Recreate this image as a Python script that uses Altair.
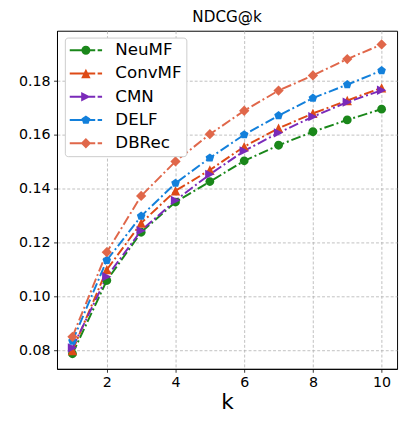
import altair as alt
import pandas as pd

# ---- data ----
k_values = [1, 2, 3, 4, 5, 6, 7, 8, 9, 10]
series_names = ["NeuMF", "ConvMF", "CMN", "DELF", "DBRec"]
neumf = [0.0788, 0.1060, 0.1239, 0.1351, 0.1427, 0.1504, 0.1562, 0.1612, 0.1656, 0.1696]
convmf = [0.0800, 0.1100, 0.1273, 0.1393, 0.1470, 0.1557, 0.1625, 0.1680, 0.1728, 0.1775]
cmn = [0.0810, 0.1074, 0.1245, 0.1357, 0.1454, 0.1541, 0.1608, 0.1668, 0.1722, 0.1766]
delf = [0.0835, 0.1135, 0.1299, 0.1421, 0.1515, 0.1601, 0.1672, 0.1737, 0.1787, 0.1839]
dbrec = [0.0851, 0.1165, 0.1374, 0.1502, 0.1603, 0.1690, 0.1765, 0.1821, 0.1882, 0.1936]
x_ticks = [2, 4, 6, 8, 10]
y_ticks = [0.08, 0.10, 0.12, 0.14, 0.16, 0.18]

colors = ["#1a871a", "#de4a16", "#7a2ab9", "#1380db", "#e0674a"]

rows = []
for name, vals in zip(series_names, [neumf, convmf, cmn, delf, dbrec]):
    for kk, v in zip(k_values, vals):
        rows.append({"k": kk, "value": v, "series": name})
df = pd.DataFrame(rows)


# ---- marker shapes (SVG paths in the unit box, all drawn clockwise) ----
def fmt(v):
    return f"{v:.3f}"


def circle(cx, r):
    return (f"M{fmt(cx - r)},0A{fmt(r)},{fmt(r)} 0 1,1 {fmt(cx + r)},0"
            f"A{fmt(r)},{fmt(r)} 0 1,1 {fmt(cx - r)},0Z")


def poly(pts):
    return "M" + "L".join(f"{fmt(x)},{fmt(y)}" for x, y in pts) + "Z"


def tri_up(cx, r):
    return poly([(cx, -r), (cx + r, r), (cx - r, r)])


def tri_right(cx, r):
    return poly([(cx + r, 0), (cx - r, r), (cx - r, -r)])


def pentagon(cx, r):
    import math
    pts = []
    for i in range(5):
        a = math.radians(-90 + 72 * i)
        pts.append((cx + r * math.cos(a), r * math.sin(a)))
    return poly(pts)


def diamond(cx, r):
    return poly([(cx, -r), (cx + r, 0), (cx, r), (cx - r, 0)])


def rect(x1, x2, t):
    return poly([(x1, -t), (x2, -t), (x2, t), (x1, t)])


point_shapes = [
    circle(0, 0.9),
    tri_up(0, 0.95),
    tri_right(0, 0.95),
    pentagon(0, 0.92),
    diamond(0, 1.05),
]

# legend handle: dash-dot line with marker in the middle
cx = 1.06
t = 0.125
line_part = rect(-1.0, 2.25, t) + rect(2.56, 3.125, t)
legend_shapes = [
    line_part + circle(cx, 0.575),
    line_part + tri_up(cx, 0.6),
    line_part + tri_right(cx, 0.6),
    line_part + pentagon(cx, 0.59),
    line_part + diamond(cx, 0.66),
]

font = "DejaVu Sans"

x_enc = alt.X(
    "k:Q",
    scale=alt.Scale(domain=[0.55, 10.45], nice=False, zero=False),
    axis=alt.Axis(values=x_ticks, title="k", titleFontSize=22, titleFont=font,
                  titleFontWeight="normal", titleColor="black", titlePadding=3),
)
y_enc = alt.Y(
    "value:Q",
    scale=alt.Scale(domain=[0.0732, 0.1987], nice=False, zero=False),
    axis=alt.Axis(values=y_ticks, format=".2f", title=None),
)

leg = alt.Legend(
    orient="none", legendX=8, legendY=7, title=None,
    labelFont=font, labelFontSize=17, labelColor="black", labelLimit=200,
    symbolSize=256, symbolStrokeWidth=0, symbolOpacity=1,
    labelOffset=30, rowPadding=5.7, padding=4.5,
    strokeColor="#cccccc", fillColor="white", cornerRadius=3,
)

color_scale = alt.Scale(domain=series_names, range=colors)

base = alt.Chart(df)

lines = base.mark_line(strokeWidth=2, strokeDash=[10, 3, 2, 3]).encode(
    x=x_enc, y=y_enc,
    color=alt.Color("series:N", scale=color_scale, legend=None),
)

points = base.mark_point(filled=True, opacity=1, size=100, strokeWidth=0).encode(
    x=x_enc, y=y_enc,
    color=alt.Color("series:N", scale=color_scale, legend=None),
    shape=alt.Shape("series:N", scale=alt.Scale(domain=series_names, range=point_shapes),
                    legend=None),
)

legend_layer = base.transform_filter("false").mark_point(
    filled=True, opacity=1, size=256, strokeWidth=0
).encode(
    x=x_enc, y=y_enc,
    color=alt.Color("series:N", scale=color_scale, legend=leg),
    shape=alt.Shape("series:N", scale=alt.Scale(domain=series_names, range=legend_shapes),
                    legend=leg),
)

chart = (
    alt.layer(lines, points, legend_layer)
    .resolve_scale(shape="independent")
    .resolve_legend(color="independent", shape="independent")
    .properties(
        width=347, height=345,
        title=alt.Title("NDCG@k", font=font, fontSize=15.5, fontWeight="normal",
                        color="black", offset=5),
        autosize=alt.AutoSizeParams(type="none"),
        padding={"left": 50, "top": 19, "right": 3, "bottom": 48},
    )
    .configure_view(stroke="black", strokeWidth=1)
    .configure_axis(
        labelFont=font, labelFontSize=14.5, labelColor="black",
        tickColor="black", tickSize=3.5, tickWidth=0.8, labelPadding=3.5,
        domainColor="black", domainWidth=1,
        grid=True, gridColor="#b0b0b0", gridDash=[3, 2], gridWidth=0.8,
    )
)

chart.save("out.html", embed_options={"renderer": "svg", "actions": False})
